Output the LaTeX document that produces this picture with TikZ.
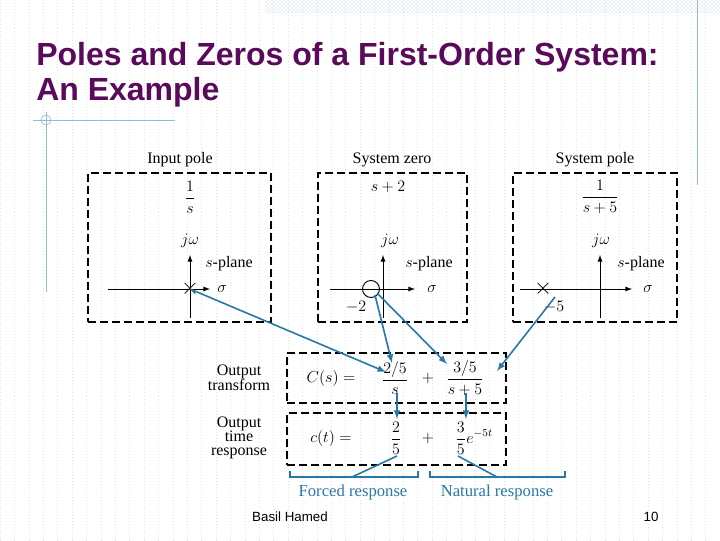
\documentclass[tikz,border=0pt]{standalone}
\usepackage{fontspec}
\setmainfont{Liberation Serif}
\newfontfamily\arialf{Liberation Sans}
\usetikzlibrary{patterns}
\definecolor{ttl}{HTML}{5A0A5A}
\definecolor{blu}{HTML}{2878A8}
\definecolor{grd}{HTML}{DDE3EC}
\begin{document}
\begin{tikzpicture}[x=0.75pt,y=-0.75pt,
  dbox/.style={draw,very thick,dash pattern=on 6pt off 3pt},
  ax/.style={line width=0.7pt,-latex},
  lbl/.style={font=\fontsize{12}{12.5}\selectfont,align=center,inner sep=0},
  mth/.style={font=\fontsize{12}{13}\selectfont,inner sep=0},
  xm/.style={inner sep=0,font=\fontsize{17}{17}\selectfont},
  bl/.style={blu,line width=1.2pt,-latex},
  bln/.style={blu,line width=1.2pt},
  bt/.style={blu,font=\fontsize{12.5}{13}\selectfont,inner sep=0}]
\path[use as bounding box] (0,0) rectangle (720,540);
\fill[white] (0,0) rectangle (720,540);
\draw[grd,line width=0.3pt,dotted] (0,0) grid[step=14.4] (720,540);
\fill[pattern=crosshatch dots,pattern color=blu!40] (265,0) rectangle (720,12);
\draw[blu!50,line width=0.6pt] (697,0) -- (697,185);
\draw[blu!50,line width=0.6pt] (46,112) -- (46,292);
\draw[blu!50,line width=0.6pt] (33,120) -- (175,120);
\draw[blu!50,line width=0.5pt] (46,120) circle (5);
\node[anchor=west,inner sep=0,text=ttl,align=left,font=\arialf\bfseries\fontsize{24}{26.5}\selectfont] (title) at (36,75) {Poles and Zeros of a First-Order System:\\An Example};
% boxes
\node[dbox,minimum width=183*0.75pt,minimum height=149*0.75pt] (b1) at (179.5,247.5) {};
\node[dbox,minimum width=149*0.75pt,minimum height=149*0.75pt] (b2) at (392.5,247.5) {};
\node[dbox,minimum width=164*0.75pt,minimum height=149*0.75pt] (b3) at (595,247.5) {};
\node[lbl] (t1) at (180,160) {Input pole};
\node[lbl] (t2) at (392,160) {System zero};
\node[lbl] (t3) at (595,160) {System pole};
% box1
\node[mth] (f1) at (190,197) {$\displaystyle\frac{1}{s}$};
\draw[ax] (190,318) -- (190,255);
\draw[ax] (108,289) -- (210,289);
\node[mth] (jw1) at (190,241) {$j\omega$};
\node[mth] (sp1) at (229,264) {$s$-plane};
\node[mth] (sg1) at (222,289) {$\sigma$};
\node[xm] (x1) at (190,289) {$\times$};
% box2
\node[mth] (f2) at (388,187) {$s+2$};
\draw[ax] (383,318) -- (383,255);
\draw[ax] (330,289) -- (415,289);
\node[mth] (jw2) at (390,241) {$j\omega$};
\node[mth] (sp2) at (429,264) {$s$-plane};
\node[mth] (sg2) at (432,289) {$\sigma$};
\node[draw,circle,line width=0.7pt,minimum size=17*0.75pt,inner sep=0] (z) at (371,289) {};
\node[mth] (m2) at (356,307) {$-2$};
% box3
\node[mth] (f3) at (600,197) {$\displaystyle\frac{1}{s+5}$};
\draw[ax] (600,318) -- (600,255);
\draw[ax] (520,289) -- (632,289);
\node[mth] (jw3) at (601,241) {$j\omega$};
\node[mth] (sp3) at (641,264) {$s$-plane};
\node[mth] (sg3) at (648,289) {$\sigma$};
\node[xm] (x3) at (543,289) {$\times$};
\node[mth] (m3) at (554,307) {$-5$};
% lower boxes
\node[dbox,minimum width=219*0.75pt,minimum height=50*0.75pt] (b4) at (396.5,378) {};
\node[dbox,minimum width=219*0.75pt,minimum height=52*0.75pt] (b5) at (396.5,439) {};
\node[lbl] (l4) at (239,378) {Output\\[-1pt]transform};
\node[lbl] (l5) at (239,438) {Output\\[-2pt]time\\[-2pt]response};
\node[mth] (cs) at (331,378) {$C(s) =$};
\node[mth] (e1) at (395,378) {$\displaystyle\frac{2/5}{s}$};
\node[mth] (p1) at (428,378) {$+$};
\node[mth] (e2) at (465,378) {$\displaystyle\frac{3/5}{s+5}$};
\node[mth] (ct) at (331,438) {$c(t) =$};
\node[mth] (g1) at (396,438) {$\displaystyle\frac{2}{5}$};
\node[mth] (p2) at (428,438) {$+$};
\node[mth] (g2) at (474,438) {$\displaystyle\frac{3}{5}e^{-5t}$};
% connectors
\coordinate (a1) at (386,372);
\coordinate (a2) at (392,363);
\coordinate (a3) at (447,364);
\coordinate (a4) at (497,371);
\draw[bl] (x1.center) -- (a1);
\draw[bl] ([shift={(4,6)}]z.center) -- (a2);
\draw[bl] ([shift={(6,4)}]z.center) -- (a3);
\coordinate (s3) at (555,297);
\draw[bl] (s3) -- (a4);
\coordinate (d1a) at (397,393); \coordinate (d1b) at (397,419);
\coordinate (d2a) at (466,393); \coordinate (d2b) at (466,419);
\draw[bl] (d1a) -- (d1b);
\draw[bl] (d2a) -- (d2b);
% brackets
\draw[bln] (290,471) -- (290,477) -- (418,477) -- (418,471);
\draw[bln] (430,471) -- (430,477) -- (565,477) -- (565,471);
\coordinate (k1) at (352,477); \coordinate (k2) at (497,477);
\coordinate (q1) at (397,456); \coordinate (q2) at (458,456);
\draw[bln] (k1) -- (q1);
\draw[bln] (k2) -- (q2);
\node[bt] (fr) at (353,492) {Forced response};
\node[bt] (nr) at (497,492) {Natural response};
% footer
\node[inner sep=0,font=\arialf\fontsize{10}{12}\selectfont] (ft) at (290,517) {Basil Hamed};
\node[inner sep=0,font=\arialf\fontsize{10}{12}\selectfont] (pg) at (651,517) {10};
\end{tikzpicture}
\end{document}
